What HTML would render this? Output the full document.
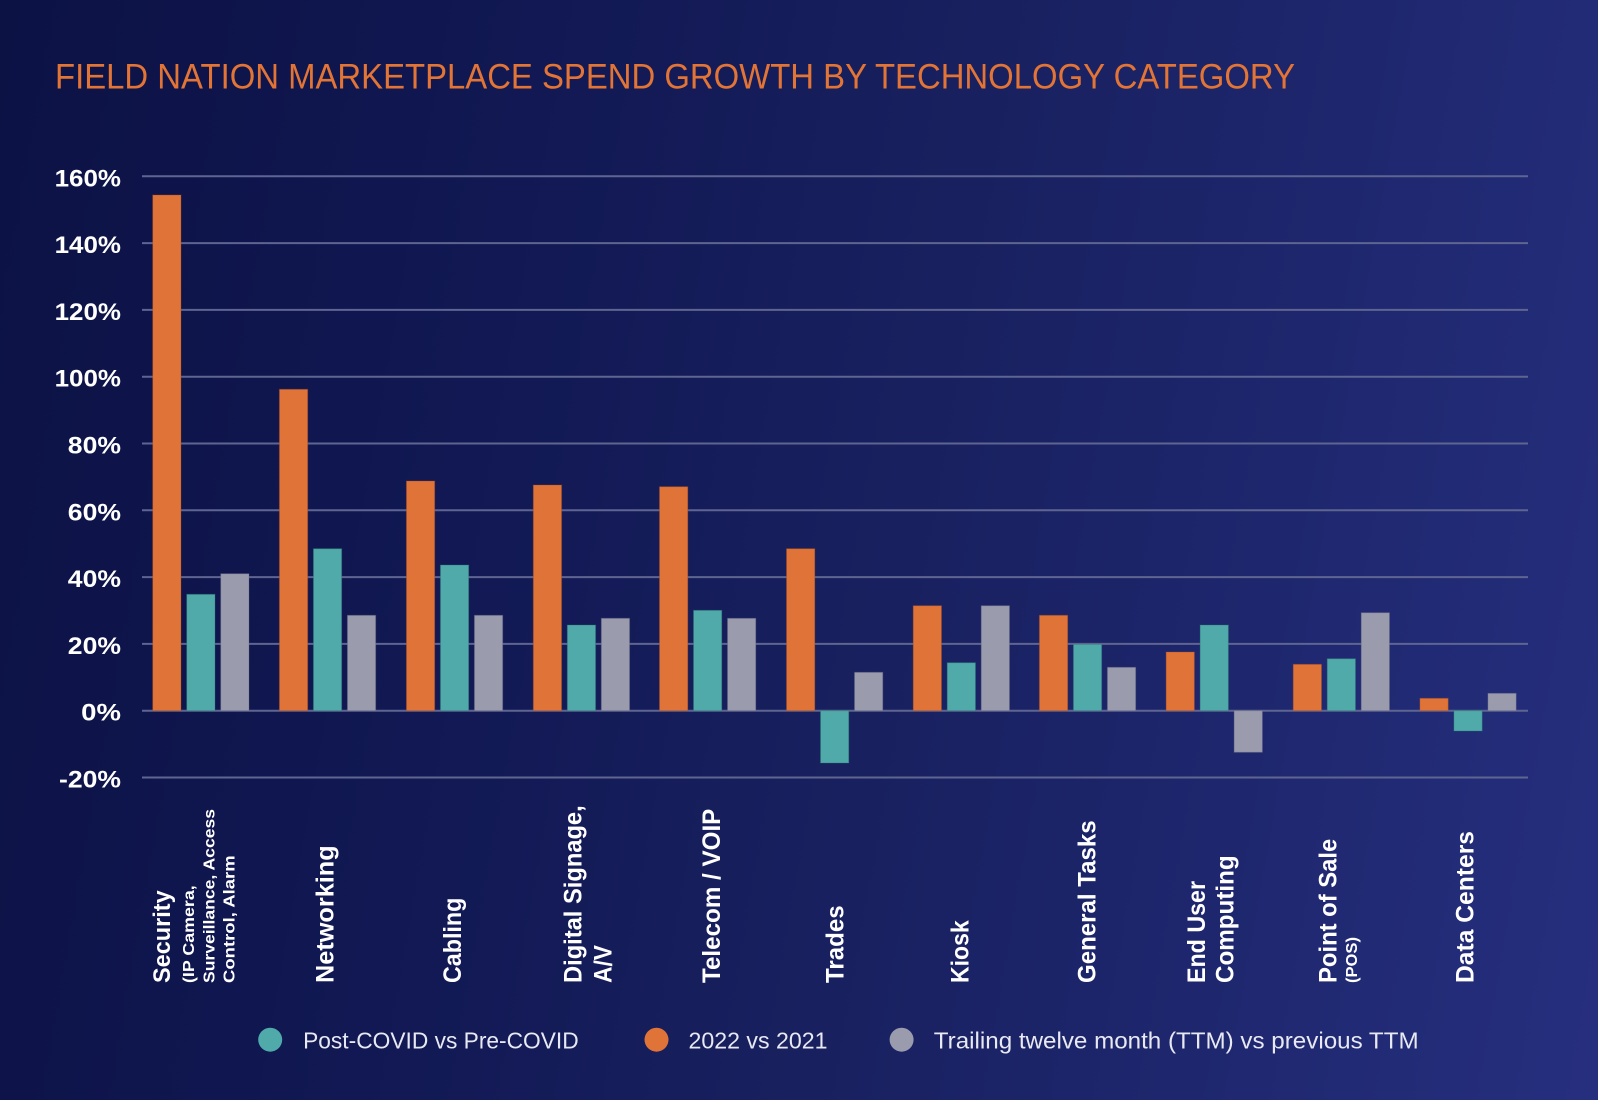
<!DOCTYPE html>
<html>
<head>
<meta charset="utf-8">
<style>
html,body{margin:0;padding:0;width:1598px;height:1100px;overflow:hidden;}
body{background:linear-gradient(100deg,#0c1244 0%,#111853 30%,#18205f 55%,#1f2870 80%,#262f7e 100%);}
svg{display:block;}
text{font-family:"Liberation Sans",Arial,sans-serif;}
</style>
</head>
<body>
<svg width="1598" height="1100" viewBox="0 0 1598 1100" xmlns="http://www.w3.org/2000/svg">
  <!-- Title -->
  <text x="55" y="88.3" font-size="35" fill="#e27436" textLength="1240" lengthAdjust="spacingAndGlyphs">FIELD NATION MARKETPLACE SPEND GROWTH BY TECHNOLOGY CATEGORY</text>

  <!-- Gridlines -->
  <g stroke="#5f6591" stroke-width="2">
    <line x1="142" x2="1528" y1="176.3" y2="176.3"/>
    <line x1="142" x2="1528" y1="243.1" y2="243.1"/>
    <line x1="142" x2="1528" y1="309.9" y2="309.9"/>
    <line x1="142" x2="1528" y1="376.7" y2="376.7"/>
    <line x1="142" x2="1528" y1="443.5" y2="443.5"/>
    <line x1="142" x2="1528" y1="510.3" y2="510.3"/>
    <line x1="142" x2="1528" y1="577.1" y2="577.1"/>
    <line x1="142" x2="1528" y1="643.9" y2="643.9"/>
    <line x1="142" x2="1528" y1="710.7" y2="710.7"/>
    <line x1="142" x2="1528" y1="777.5" y2="777.5"/>
  </g>

  <!-- Y tick labels -->
  <g font-size="24" font-weight="bold" fill="#ffffff" text-anchor="end">
    <text x="121" y="186.3" textLength="66.4" lengthAdjust="spacingAndGlyphs">160%</text>
    <text x="121" y="253.1" textLength="66.4" lengthAdjust="spacingAndGlyphs">140%</text>
    <text x="121" y="319.9" textLength="66.4" lengthAdjust="spacingAndGlyphs">120%</text>
    <text x="121" y="386.7" textLength="66.4" lengthAdjust="spacingAndGlyphs">100%</text>
    <text x="121" y="453.5" textLength="53.2" lengthAdjust="spacingAndGlyphs">80%</text>
    <text x="121" y="520.3" textLength="53.2" lengthAdjust="spacingAndGlyphs">60%</text>
    <text x="121" y="587.1" textLength="53.2" lengthAdjust="spacingAndGlyphs">40%</text>
    <text x="121" y="653.9" textLength="53.2" lengthAdjust="spacingAndGlyphs">20%</text>
    <text x="121" y="720.7" textLength="39.8" lengthAdjust="spacingAndGlyphs">0%</text>
    <text x="121" y="787.5" textLength="62" lengthAdjust="spacingAndGlyphs">-20%</text>
  </g>

  <!-- Bars -->
  <g stroke-width="1" stroke-opacity="0.35">
    <!-- Security -->
    <rect x="152.7" y="195" width="28.3" height="515.7" fill="#e07338" stroke="#a04a20"/>
    <rect x="186.7" y="594.3" width="28.3" height="116.4" fill="#4faaa9" stroke="#2a7070"/>
    <rect x="220.7" y="573.7" width="28.3" height="137" fill="#9a9cae" stroke="#60627a"/>
    <!-- Networking -->
    <rect x="279.4" y="389.3" width="28.3" height="321.4" fill="#e07338" stroke="#a04a20"/>
    <rect x="313.4" y="548.7" width="28.3" height="162" fill="#4faaa9" stroke="#2a7070"/>
    <rect x="347.4" y="615.3" width="28.3" height="95.4" fill="#9a9cae" stroke="#60627a"/>
    <!-- Cabling -->
    <rect x="406.4" y="481" width="28.3" height="229.7" fill="#e07338" stroke="#a04a20"/>
    <rect x="440.4" y="565" width="28.3" height="145.7" fill="#4faaa9" stroke="#2a7070"/>
    <rect x="474.4" y="615.3" width="28.3" height="95.4" fill="#9a9cae" stroke="#60627a"/>
    <!-- Digital Signage -->
    <rect x="533.3" y="485" width="28.3" height="225.7" fill="#e07338" stroke="#a04a20"/>
    <rect x="567.3" y="625" width="28.3" height="85.7" fill="#4faaa9" stroke="#2a7070"/>
    <rect x="601.3" y="618.3" width="28.3" height="92.4" fill="#9a9cae" stroke="#60627a"/>
    <!-- Telecom -->
    <rect x="659.5" y="486.7" width="28.3" height="224" fill="#e07338" stroke="#a04a20"/>
    <rect x="693.5" y="610.3" width="28.3" height="100.4" fill="#4faaa9" stroke="#2a7070"/>
    <rect x="727.5" y="618.3" width="28.3" height="92.4" fill="#9a9cae" stroke="#60627a"/>
    <!-- Trades -->
    <rect x="786.5" y="548.7" width="28.3" height="162" fill="#e07338" stroke="#a04a20"/>
    <rect x="820.5" y="710.7" width="28.3" height="52.3" fill="#4faaa9" stroke="#2a7070"/>
    <rect x="854.5" y="672.3" width="28.3" height="38.4" fill="#9a9cae" stroke="#60627a"/>
    <!-- Kiosk -->
    <rect x="913.2" y="605.7" width="28.3" height="105" fill="#e07338" stroke="#a04a20"/>
    <rect x="947.2" y="662.7" width="28.3" height="48" fill="#4faaa9" stroke="#2a7070"/>
    <rect x="981.2" y="605.7" width="28.3" height="105" fill="#9a9cae" stroke="#60627a"/>
    <!-- General Tasks -->
    <rect x="1039.4" y="615.3" width="28.3" height="95.4" fill="#e07338" stroke="#a04a20"/>
    <rect x="1073.4" y="644.3" width="28.3" height="66.4" fill="#4faaa9" stroke="#2a7070"/>
    <rect x="1107.4" y="667.3" width="28.3" height="43.4" fill="#9a9cae" stroke="#60627a"/>
    <!-- End User Computing -->
    <rect x="1166.1" y="652" width="28.3" height="58.7" fill="#e07338" stroke="#a04a20"/>
    <rect x="1200.1" y="625" width="28.3" height="85.7" fill="#4faaa9" stroke="#2a7070"/>
    <rect x="1234.1" y="710.7" width="28.3" height="41.6" fill="#9a9cae" stroke="#60627a"/>
    <!-- Point of Sale -->
    <rect x="1293.2" y="664.3" width="28.3" height="46.4" fill="#e07338" stroke="#a04a20"/>
    <rect x="1327.2" y="658.7" width="28.3" height="52" fill="#4faaa9" stroke="#2a7070"/>
    <rect x="1361.2" y="612.7" width="28.3" height="98" fill="#9a9cae" stroke="#60627a"/>
    <!-- Data Centers -->
    <rect x="1419.9" y="698.3" width="28.3" height="12.4" fill="#e07338" stroke="#a04a20"/>
    <rect x="1453.9" y="710.7" width="28.3" height="20.3" fill="#4faaa9" stroke="#2a7070"/>
    <rect x="1487.9" y="693.3" width="28.3" height="17.4" fill="#9a9cae" stroke="#60627a"/>
  </g>

  <!-- Category labels (rotated) -->
  <g fill="#ffffff" font-weight="bold">
    <text transform="translate(170,983) rotate(-90)" font-size="24" textLength="92.7" lengthAdjust="spacingAndGlyphs">Security</text>
    <text transform="translate(194.2,983) rotate(-90)" font-size="16" textLength="97.7" lengthAdjust="spacingAndGlyphs">(IP Camera,</text>
    <text transform="translate(214.3,983) rotate(-90)" font-size="16" textLength="174" lengthAdjust="spacingAndGlyphs">Surveillance, Access</text>
    <text transform="translate(234.5,983) rotate(-90)" font-size="16" textLength="127.7" lengthAdjust="spacingAndGlyphs">Control, Alarm</text>

    <text transform="translate(333.3,983) rotate(-90)" font-size="25" textLength="137.7" lengthAdjust="spacingAndGlyphs">Networking</text>
    <text transform="translate(461,983) rotate(-90)" font-size="25" textLength="85.3" lengthAdjust="spacingAndGlyphs">Cabling</text>
    <text transform="translate(581.6,983) rotate(-90)" font-size="25" textLength="177.7" lengthAdjust="spacingAndGlyphs">Digital Signage,</text>
    <text transform="translate(611.6,983) rotate(-90)" font-size="25" textLength="38" lengthAdjust="spacingAndGlyphs">A/V</text>
    <text transform="translate(720,983) rotate(-90)" font-size="25" textLength="174.3" lengthAdjust="spacingAndGlyphs">Telecom / VOIP</text>
    <text transform="translate(843.3,983) rotate(-90)" font-size="25" textLength="77.7" lengthAdjust="spacingAndGlyphs">Trades</text>
    <text transform="translate(968.3,983) rotate(-90)" font-size="25" textLength="62.7" lengthAdjust="spacingAndGlyphs">Kiosk</text>
    <text transform="translate(1095.5,983) rotate(-90)" font-size="25" textLength="162.7" lengthAdjust="spacingAndGlyphs">General Tasks</text>
    <text transform="translate(1205,983) rotate(-90)" font-size="25" textLength="102" lengthAdjust="spacingAndGlyphs">End User</text>
    <text transform="translate(1233.3,983) rotate(-90)" font-size="25" textLength="127.7" lengthAdjust="spacingAndGlyphs">Computing</text>
    <text transform="translate(1336.6,983) rotate(-90)" font-size="25" textLength="144.3" lengthAdjust="spacingAndGlyphs">Point of Sale</text>
    <text transform="translate(1357,983) rotate(-90)" font-size="16" textLength="46" lengthAdjust="spacingAndGlyphs">(POS)</text>
    <text transform="translate(1473.3,983) rotate(-90)" font-size="25" textLength="152" lengthAdjust="spacingAndGlyphs">Data Centers</text>
  </g>

  <!-- Legend -->
  <circle cx="270.2" cy="1039.7" r="12" fill="#4faaa9"/>
  <text x="303.1" y="1048.3" font-size="23" fill="#e8e9f2" textLength="275.6" lengthAdjust="spacingAndGlyphs">Post-COVID vs Pre-COVID</text>
  <circle cx="656.5" cy="1039.7" r="12" fill="#e07338"/>
  <text x="688.5" y="1048.3" font-size="23" fill="#e8e9f2" textLength="139" lengthAdjust="spacingAndGlyphs">2022 vs 2021</text>
  <circle cx="901.6" cy="1039.7" r="12" fill="#9a9cae"/>
  <text x="933.8" y="1048.3" font-size="23" fill="#e8e9f2" textLength="484.8" lengthAdjust="spacingAndGlyphs">Trailing twelve month (TTM) vs previous TTM</text>
</svg>
</body>
</html>
